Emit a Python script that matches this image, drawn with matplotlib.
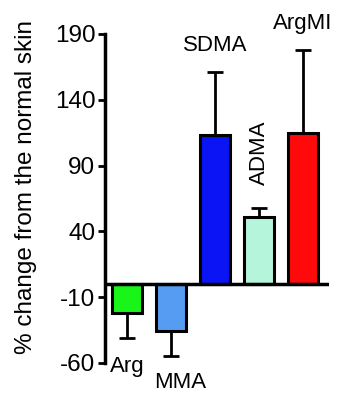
import numpy as np
import matplotlib.pyplot as plt

plt.rcParams['font.family'] = ['Liberation Sans', 'DejaVu Sans']
plt.rcParams['axes.unicode_minus'] = False

names = ['Arg', 'MMA', 'SDMA', 'ADMA', 'ArgMI']
values = [-22, -36, 113, 51, 115]
errors = [19, 19, 48, 7, 63]
colors = ['#19f519', '#559cf2', '#0a14f5', '#b5f5dc', '#ff0a0a']
yticks = [-60, -10, 40, 90, 140, 190]

fig = plt.figure(figsize=(3.5, 4.11), dpi=100)
ax = fig.add_axes([0.30, 0.1168, 0.641, 0.8005])

x = np.arange(len(names))
ax.bar(x, values, width=0.7, color=colors, edgecolor='black', linewidth=2.2, zorder=2)

# one-sided error bars (away from zero)
for xi, v, e in zip(x, values, errors):
    if v >= 0:
        yerr = [[0], [e]]
    else:
        yerr = [[e], [0]]
    ax.errorbar(xi, v, yerr=yerr, fmt='none', ecolor='black', elinewidth=2,
                capsize=6, capthick=2, zorder=1)

ax.axhline(0, color='black', linewidth=2.5, zorder=3)

ax.set_xlim(-0.5, 4.6)
ax.set_ylim(-60, 190)
ax.set_yticks(yticks)
ax.set_xticks([])
for s in ['top', 'right', 'bottom']:
    ax.spines[s].set_visible(False)
ax.spines['left'].set_linewidth(2.5)
ax.tick_params(axis='y', direction='out', length=5, width=2, labelsize=17.5, pad=2)

ax.set_ylabel('% change from the normal skin', fontsize=17.5)
ax.yaxis.set_label_coords(-0.305, 0.535)

# bar labels
ax.text(0, -63, 'Arg', ha='center', va='center', fontsize=16)
ax.text(1.2, -75, 'MMA', ha='center', va='center', fontsize=16)
ax.text(2, 181, 'SDMA', ha='center', va='center', fontsize=16)
ax.text(3, 100, 'ADMA', ha='center', va='center', fontsize=16, rotation=90)
ax.text(4, 198, 'ArgMI', ha='center', va='center', fontsize=16, clip_on=False)

fig.savefig('out.png', dpi=100)
